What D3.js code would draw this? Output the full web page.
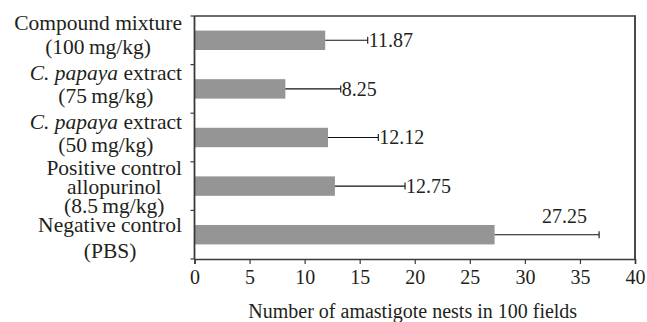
<!DOCTYPE html>
<html>
<head>
<meta charset="utf-8">
<script src="https://cdn.jsdelivr.net/npm/d3@7"></script>
<style>
  body { margin: 0; background: #fff; }
</style>
</head>
<body>
<div id="chart"></div>
<script>
var width = 647,
    height = 322;

// data, top to bottom
var groups = ["compound", "papaya75", "papaya50", "allopurinol", "pbs"];
var nests = [11.87, 8.25, 12.12, 12.75, 27.25];
var errs = [3.86, 5.03, 4.57, 6.37, 9.49];
var ticks = [0, 5, 10, 15, 20, 25, 30, 35, 40];

// label lines, each line a list of [text, italic]
var labelLines = [
  [[["Compound mixture", false]], [["(100\u2009mg/kg)", false]]],
  [[["C. papaya", true], [" extract", false]], [["(75\u2009mg/kg)", false]]],
  [[["C. papaya", true], [" extract", false]], [["(50\u2009mg/kg)", false]]],
  [[["Positive control", false]], [["allopurinol", false]], [["(8.5\u2009mg/kg)", false]]],
  [[["Negative control", false]], [["(PBS)", false]]]
];

// where the first baseline sits vs band centre, and line gap
var labelLayout = [
  {dy: -10, lh: 24},
  {dy: -9, lh: 23},
  {dy: -8.5, lh: 23},
  {dy: -11, lh: 18.7},
  {dy: -3, lh: 26}
];

var serif = "'Liberation Serif'";

var margin = {top: 16, right: 12, bottom: 63, left: 194.5};
var plotW = width - margin.left - margin.right,
    plotH = height - margin.top - margin.bottom;

var x = d3.scaleLinear().domain([0, 40]).range([0, plotW]);
var y = d3.scaleBand().domain(groups).range([0, plotH]).paddingInner(0.6).paddingOuter(0.3);
var band = plotH / groups.length;

var svg = d3.select("#chart").append("svg")
  .attr("width", width)
  .attr("height", height);

var g = svg.append("g")
  .attr("transform", "translate(" + margin.left + "," + margin.top + ")");

// frame top + right
g.append("line")
  .attr("x1", 0).attr("x2", plotW)
  .attr("y1", 0).attr("y2", 0)
  .attr("stroke", "#3a3a3a")
  .attr("stroke-width", 1.4);
g.append("line")
  .attr("x1", plotW).attr("x2", plotW)
  .attr("y1", -0.7).attr("y2", plotH)
  .attr("stroke", "#4a4a4a")
  .attr("stroke-width", 2);

// bars
g.selectAll("rect.bar")
  .data(groups)
  .enter().append("rect")
  .attr("class", "bar")
  .attr("x", 0)
  .attr("y", function(d) { return y(d); })
  .attr("width", function(d, i) { return x(nests[i]); })
  .attr("height", y.bandwidth())
  .attr("fill", "#959595");

// error bars
var eb = g.selectAll("g.err")
  .data(groups)
  .enter().append("g")
  .attr("class", "err")
  .attr("transform", function(d) { return "translate(0," + (y(d) + y.bandwidth() / 2) + ")"; });

eb.append("line")
  .attr("x1", function(d, i) { return x(nests[i]); })
  .attr("x2", function(d, i) { return x(nests[i] + errs[i]); })
  .attr("stroke", "#111")
  .attr("stroke-width", 1.1);

eb.append("line")
  .attr("x1", function(d, i) { return x(nests[i] + errs[i]); })
  .attr("x2", function(d, i) { return x(nests[i] + errs[i]); })
  .attr("y1", -3.5)
  .attr("y2", 3.5)
  .attr("stroke", "#111")
  .attr("stroke-width", 1.1);

// value labels
eb.append("text")
  .style("font-family", serif)
  .style("font-size", "20px")
  .attr("fill", "#231f20")
  .each(function(d, i) {
    var end = x(nests[i] + errs[i]);
    var t = d3.select(this).text(nests[i].toFixed(2));
    if (end + 50 > plotW) {
      t.attr("x", end - 12).attr("y", -12).attr("text-anchor", "end");
    } else {
      t.attr("x", end + 1).attr("y", 6.7).attr("text-anchor", "start");
    }
  });

// x axis
var xAxis = g.append("g")
  .attr("transform", "translate(0," + plotH + ")")
  .call(d3.axisBottom(x).tickValues(ticks).tickSize(5).tickPadding(6).tickFormat(d3.format("d")));
xAxis.select(".domain").attr("stroke", "#3a3a3a").attr("stroke-width", 1.6);
xAxis.selectAll(".tick line").attr("stroke", "#3a3a3a").attr("stroke-width", 1.2);
xAxis.selectAll(".tick text")
  .style("font-family", serif)
  .style("font-size", "20px")
  .attr("fill", "#231f20");

// y axis line + ticks on band edges
g.append("line")
  .attr("x1", 0).attr("x2", 0)
  .attr("y1", 0).attr("y2", plotH)
  .attr("stroke", "#3a3a3a")
  .attr("stroke-width", 1.8);

g.selectAll("line.ytick")
  .data(d3.range(groups.length + 1))
  .enter().append("line")
  .attr("class", "ytick")
  .attr("x1", -4).attr("x2", 0)
  .attr("y1", function(k) { return k * band; })
  .attr("y2", function(k) { return k * band; })
  .attr("stroke", "#3a3a3a")
  .attr("stroke-width", 1.2);

// category labels: block centred, widest line right aligned
var labelRight = 182 - margin.left;
groups.forEach(function(d, i) {
  var lay = labelLayout[i];
  var lg = g.append("g");
  var t = lg.append("text")
    .style("font-family", serif)
    .style("font-size", "21.5px")
    .attr("fill", "#231f20")
    .attr("text-anchor", "middle");
  labelLines[i].forEach(function(line, j) {
    var first = true;
    line.forEach(function(seg) {
      var ts = t.append("tspan").text(seg[0]);
      if (seg[1]) ts.style("font-style", "italic");
      if (first) {
        ts.attr("x", 0).attr("y", y(d) + y.bandwidth() / 2 + lay.dy + j * lay.lh);
        first = false;
      }
    });
  });
  var bb = lg.node().getBBox();
  lg.attr("transform", "translate(" + (labelRight - (bb.x + bb.width)) + ",0)");
});

// axis title
svg.append("text")
  .style("font-family", serif)
  .style("font-size", "20px")
  .attr("x", margin.left + plotW / 2 - 2)
  .attr("y", 318)
  .attr("text-anchor", "middle")
  .attr("fill", "#231f20")
  .text("Number of amastigote nests in 100 fields");
</script>
</body>
</html>
